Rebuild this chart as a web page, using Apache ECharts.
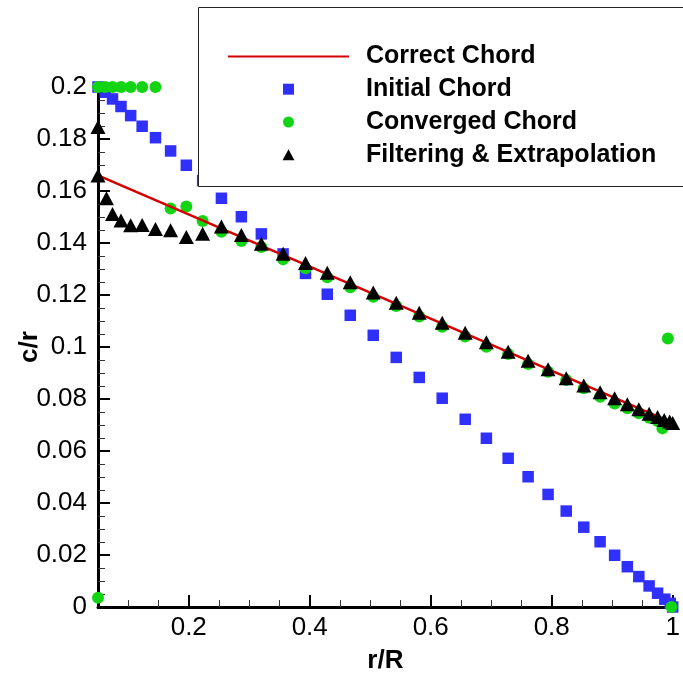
<!DOCTYPE html>
<html>
<head>
<meta charset="utf-8">
<script src="https://cdn.jsdelivr.net/npm/echarts@6/dist/echarts.min.js"></script>
<style>
html,body{margin:0;padding:0;background:#fff;}
#chart{width:683px;height:679px;}
</style>
</head>
<body>
<div id="chart"></div>
<script>
// ---- data ----
var seriesNames = ['Correct Chord', 'Initial Chord', 'Converged Chord', 'Filtering & Extrapolation'];

var corrX = [0.05, 1.0];
var corrY = [0.166, 0.0708];

var initX = [0.05,0.062,0.074,0.088,0.104,0.123,0.145,0.170,0.196,0.223,0.254,0.287,0.320,0.356,0.393,0.429,0.467,0.505,0.543,0.581,0.619,0.657,0.692,0.728,0.761,0.794,0.824,0.853,0.880,0.904,0.925,0.944,0.961,0.975,0.987,0.996,1.0];
var initY = [0.2,0.1980,0.1954,0.1925,0.1890,0.1849,0.1805,0.1754,0.1699,0.1640,0.1572,0.1501,0.1435,0.1358,0.1283,0.1203,0.1122,0.1045,0.0960,0.0883,0.0803,0.0722,0.0649,0.0572,0.0501,0.0433,0.0369,0.0307,0.0251,0.0199,0.0155,0.0117,0.0081,0.0053,0.0030,0.0014,0.0];

var convX = [0.05,0.062,0.074,0.088,0.104,0.123,0.145,0.170,0.196,0.223,0.254,0.287,0.320,0.356,0.393,0.429,0.467,0.505,0.543,0.581,0.619,0.657,0.692,0.728,0.761,0.794,0.824,0.853,0.880,0.904,0.925,0.944,0.961,0.975,0.983,0.992,0.998,0.05];
var convY = [0.2,0.2,0.2,0.2,0.2,0.2,0.2,0.1533,0.1540,0.1485,0.1443,0.1408,0.1385,0.1337,0.1303,0.1268,0.1230,0.1193,0.1158,0.1117,0.1078,0.1040,0.1001,0.0973,0.0935,0.0905,0.0873,0.0841,0.0809,0.0783,0.0764,0.0745,0.0728,0.0715,0.0687,0.1033,0.0,0.0036];

var filtX = [0.05,0.05,0.064,0.074,0.088,0.104,0.123,0.145,0.170,0.196,0.223,0.254,0.287,0.320,0.356,0.393,0.429,0.467,0.505,0.543,0.581,0.619,0.657,0.692,0.728,0.761,0.794,0.824,0.853,0.880,0.904,0.925,0.944,0.961,0.975,0.986,0.995,1.0];
var filtY = [0.1846,0.166,0.1572,0.1512,0.1487,0.1468,0.1469,0.1454,0.1449,0.1423,0.1436,0.1463,0.1431,0.1397,0.1359,0.1323,0.1286,0.1249,0.1210,0.1170,0.1132,0.1093,0.1055,0.1018,0.0982,0.0947,0.0914,0.0880,0.0852,0.0826,0.0803,0.0780,0.0761,0.0743,0.0731,0.0719,0.0713,0.0708];

var xMajorTicks = [0.2, 0.4, 0.6, 0.8, 1.0];
var xMinorTicks = [0.1, 0.15, 0.25, 0.3, 0.35, 0.45, 0.5, 0.55, 0.65, 0.7, 0.75, 0.85, 0.9, 0.95];

function pairs(xs, ys) { return xs.map(function (x, i) { return [x, ys[i]]; }); }

var FONT = 'Liberation Sans, Arial, Helvetica, sans-serif';
var BLUE = '#3030fc', GREEN = '#12d412', RED = '#d40000';
var chart = echarts.init(document.getElementById('chart'), null, {renderer: 'canvas'});

var option = {
  backgroundColor: '#fff',
  animation: false,
  grid: {left: 98, right: 10.3, top: 87, bottom: 72, containLabel: false, outerBoundsMode: 'none'},
  xAxis: [{
    type: 'value', min: 0.05, max: 1,
    name: 'r/R', nameLocation: 'middle', nameGap: 41, nameMoveOverlap: false,
    nameTextStyle: {fontFamily: FONT, fontWeight: 'bold', fontSize: 26, color: '#000'},
    axisLine: {show: true, onZero: false, lineStyle: {color: '#000', width: 3}},
    axisTick: {show: true, inside: true, length: 12, customValues: xMajorTicks, lineStyle: {color: '#000', width: 2}},
    axisLabel: {show: true, customValues: xMajorTicks, margin: 8, fontFamily: FONT, fontSize: 26, color: '#000'},
    splitLine: {show: false}
  }, {
    type: 'value', min: 0.05, max: 1, position: 'bottom',
    axisLine: {show: false},
    axisTick: {show: true, inside: true, length: 7, customValues: xMinorTicks, lineStyle: {color: '#333', width: 1}},
    axisLabel: {show: false},
    splitLine: {show: false}
  }],
  yAxis: {
    type: 'value', min: 0, max: 0.2, interval: 0.02,
    name: 'c/r', nameLocation: 'middle', nameGap: 55, nameMoveOverlap: false,
    nameTextStyle: {fontFamily: FONT, fontWeight: 'bold', fontSize: 26, color: '#000'},
    axisLine: {show: true, onZero: false, lineStyle: {color: '#000', width: 3}},
    axisTick: {show: true, inside: true, length: 12, lineStyle: {color: '#000', width: 2}},
    minorTick: {show: true, splitNumber: 4, length: 7, lineStyle: {color: '#333', width: 1}},
    axisLabel: {margin: 11, fontFamily: FONT, fontSize: 26, color: '#000'},
    splitLine: {show: false}
  },
  legend: {
    show: true, orient: 'vertical', left: 222, top: 35,
    itemWidth: 121, itemHeight: 11, itemGap: 0,
    data: [
      {name: seriesNames[0], itemStyle: {color: 'rgba(0,0,0,0)', borderWidth: 0, opacity: 0}},
      {name: seriesNames[1], icon: 'path://M0,0L10,0L10,10L0,10Z'},
      {name: seriesNames[2], icon: 'circle'},
      {name: seriesNames[3], icon: 'path://M7,0L14,13L0,13Z'}
    ],
    textStyle: {fontFamily: FONT, fontWeight: 'bold', fontSize: 25, color: '#000', lineHeight: 32.8, padding: [0, 0, 0, 12]},
    z: 5
  },
  graphic: [{
    type: 'rect', z: 4,
    shape: {x: 198.5, y: 7.5, width: 520, height: 179},
    style: {fill: '#fff', stroke: '#222', lineWidth: 1}
  }],
  series: [{
    name: seriesNames[1], type: 'scatter', clip: false, z: 2,
    symbol: 'rect', symbolSize: 11.5,
    itemStyle: {color: BLUE, opacity: 1},
    data: pairs(initX, initY)
  }, {
    name: seriesNames[2], type: 'scatter', clip: false, z: 2,
    symbol: 'circle', symbolSize: 12,
    itemStyle: {color: GREEN, opacity: 1},
    data: pairs(convX, convY)
  }, {
    name: seriesNames[0], type: 'line', clip: false, z: 3,
    showSymbol: false, symbol: 'none',
    lineStyle: {color: RED, width: 2.5},
    itemStyle: {color: RED},
    data: pairs(corrX, corrY)
  }, {
    name: seriesNames[3], type: 'scatter', clip: false, z: 3,
    symbol: 'triangle', symbolSize: [15, 14],
    itemStyle: {color: '#000', opacity: 1},
    data: pairs(filtX, filtY)
  }]
};
chart.setOption(option);
</script>
</body>
</html>
